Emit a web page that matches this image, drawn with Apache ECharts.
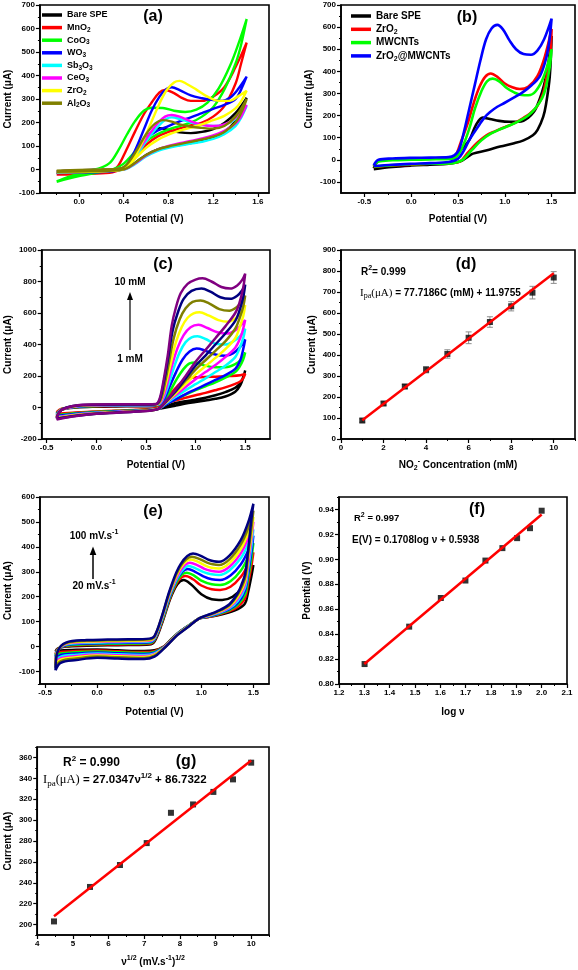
<!DOCTYPE html>
<html><head><meta charset="utf-8">
<script src="https://cdn.jsdelivr.net/npm/echarts@6/dist/echarts.min.js"></script>
<style>html,body{margin:0;padding:0;background:#fff}#c{width:578px;height:970px}</style>
</head><body><div id="c"></div>
<script>
// ---------------- Panel (a) : CVs of metal oxides ----------------
const aNames = ['Bare SPE','MnO2','CoO3','WO3','Sb3O3','CeO3','ZrO2','Al2O3'];
const aBareSPE = [[-0.2,-8],[0,-3],[0.2,0],[0.35,2],[0.42,12],[0.5,60],[0.58,120],[0.65,160],[0.72,176],[0.8,168],[0.9,158],[1.0,155],[1.1,160],[1.2,172],[1.3,198],[1.4,240],[1.5,305],[1.45,250],[1.4,205],[1.3,160],[1.2,135],[1.1,122],[1.0,112],[0.9,104],[0.8,96],[0.7,85],[0.6,62],[0.5,28],[0.42,4],[0.3,-6],[0.1,-10],[-0.1,-12],[-0.2,-14]];
const aMnO2 = [[-0.2,-20],[0,-15],[0.2,-10],[0.3,-3],[0.35,15],[0.42,80],[0.5,160],[0.58,235],[0.65,285],[0.72,328],[0.77,338],[0.85,325],[0.92,305],[1.0,292],[1.1,292],[1.2,310],[1.3,350],[1.4,435],[1.5,540],[1.45,450],[1.4,365],[1.3,270],[1.2,225],[1.1,200],[1.0,188],[0.9,175],[0.8,160],[0.7,140],[0.6,105],[0.5,55],[0.42,12],[0.3,-12],[0.1,-18],[-0.2,-22]];
const aCoO3 = [[-0.2,-50],[-0.1,-32],[0,-18],[0.1,-5],[0.2,8],[0.28,30],[0.35,80],[0.43,150],[0.5,205],[0.58,250],[0.65,263],[0.75,262],[0.85,250],[0.95,245],[1.05,255],[1.15,285],[1.25,345],[1.35,440],[1.43,540],[1.5,640],[1.45,530],[1.4,450],[1.3,340],[1.2,265],[1.1,225],[1.0,200],[0.9,185],[0.8,170],[0.7,150],[0.6,120],[0.5,75],[0.4,25],[0.3,0],[0.2,-10],[0,-28],[-0.2,-52]];
const aWO3 = [[-0.2,-12],[0,-8],[0.2,-5],[0.35,0],[0.42,15],[0.5,80],[0.58,170],[0.65,250],[0.72,310],[0.78,342],[0.83,350],[0.9,338],[1.0,315],[1.1,303],[1.2,295],[1.28,292],[1.35,305],[1.42,340],[1.5,395],[1.45,340],[1.4,300],[1.3,275],[1.2,258],[1.1,240],[1.0,222],[0.9,205],[0.8,185],[0.7,165],[0.6,130],[0.5,70],[0.42,12],[0.3,-8],[0.1,-12],[-0.2,-15]];
const aSb3O3 = [[-0.2,-10],[0,-5],[0.2,-2],[0.35,0],[0.42,10],[0.5,50],[0.6,120],[0.7,180],[0.78,215],[0.83,222],[0.9,215],[1.0,200],[1.1,190],[1.2,185],[1.3,190],[1.4,215],[1.5,270],[1.45,220],[1.4,185],[1.3,150],[1.2,130],[1.1,118],[1.0,110],[0.9,102],[0.8,92],[0.7,78],[0.6,55],[0.5,22],[0.42,2],[0.3,-5],[0.1,-8],[-0.2,-12]];
const aCeO3 = [[-0.2,-8],[0,-4],[0.2,-1],[0.35,2],[0.42,14],[0.5,60],[0.6,130],[0.7,195],[0.77,225],[0.83,232],[0.9,225],[1.0,205],[1.1,190],[1.2,185],[1.3,192],[1.4,220],[1.5,275],[1.45,225],[1.4,195],[1.3,165],[1.2,145],[1.1,132],[1.0,122],[0.9,112],[0.8,100],[0.7,85],[0.6,60],[0.5,25],[0.42,3],[0.3,-5],[0.1,-8],[-0.2,-10]];
const aZrO2 = [[-0.2,-10],[0,-6],[0.2,-2],[0.35,0],[0.42,10],[0.5,55],[0.6,150],[0.7,260],[0.78,335],[0.85,370],[0.9,377],[0.96,365],[1.05,340],[1.15,310],[1.25,292],[1.35,292],[1.42,310],[1.5,335],[1.45,290],[1.4,260],[1.3,228],[1.2,210],[1.1,192],[1.0,178],[0.9,165],[0.8,148],[0.7,125],[0.6,92],[0.5,45],[0.42,5],[0.3,-6],[0.1,-10],[-0.2,-12]];
const aAl2O3 = [[-0.2,-5],[0,-2],[0.2,0],[0.35,3],[0.42,18],[0.5,70],[0.6,150],[0.68,195],[0.75,210],[0.82,205],[0.9,192],[1.0,182],[1.1,177],[1.2,174],[1.3,185],[1.4,225],[1.5,300],[1.45,240],[1.4,200],[1.3,160],[1.2,140],[1.1,128],[1.0,118],[0.9,108],[0.8,98],[0.7,85],[0.6,62],[0.5,28],[0.42,4],[0.3,-5],[0.1,-8],[-0.2,-10]];
const aXTicks = [0,0.4,0.8,1.2,1.6], aXMinor = [-0.2,0.2,0.6,1.0,1.4];
const aYTicks = [-100,0,100,200,300,400,500,600,700], aYMinor = [-50,50,150,250,350,450,550,650];

// ---------------- Panel (b) ----------------
const bNames = ['Bare SPE','ZrO2','MWCNTs','ZrO2@MWCNTs'];
const bBareSPE = [[-0.4,-38],[-0.35,-5],[-0.2,2],[0,5],[0.2,7],[0.4,9],[0.47,15],[0.53,45],[0.62,89],[0.69,156],[0.764,191],[0.84,185],[0.94,176],[1.05,172],[1.15,172],[1.25,190],[1.34,239],[1.44,375],[1.5,560],[1.48,375],[1.44,250],[1.41,194],[1.35,135],[1.3,111],[1.2,88],[1.1,75],[0.95,60],[0.8,42],[0.66,28],[0.6,12],[0.52,-8],[0.4,-18],[0.2,-22],[0,-26],[-0.2,-32],[-0.4,-42]];
const bZrO2 = [[-0.4,-30],[-0.35,-5],[-0.2,2],[0,5],[0.2,7],[0.4,9],[0.47,18],[0.53,80],[0.6,160],[0.67,260],[0.73,330],[0.79,375],[0.85,390],[0.92,375],[1.0,345],[1.08,328],[1.16,320],[1.25,330],[1.35,380],[1.43,470],[1.5,592],[1.48,450],[1.44,360],[1.41,300],[1.35,245],[1.27,210],[1.2,190],[1.1,165],[1.0,148],[0.9,130],[0.8,110],[0.7,75],[0.6,30],[0.52,-8],[0.4,-15],[0.2,-18],[0,-22],[-0.2,-26],[-0.4,-32]];
const bMWCNTs = [[-0.4,-28],[-0.35,-8],[-0.2,-2],[0,0],[0.2,2],[0.4,4],[0.48,12],[0.55,60],[0.62,140],[0.68,230],[0.75,310],[0.81,355],[0.87,367],[0.94,355],[1.02,325],[1.1,305],[1.18,293],[1.25,292],[1.33,310],[1.42,380],[1.5,500],[1.48,420],[1.44,330],[1.4,280],[1.33,235],[1.25,200],[1.15,175],[1.05,155],[0.95,138],[0.85,118],[0.75,88],[0.65,45],[0.55,0],[0.45,-15],[0.2,-18],[0,-20],[-0.2,-24],[-0.4,-30]];
const bZrO2MWCNTs = [[-0.4,-25],[-0.35,0],[-0.2,6],[0,9],[0.2,10],[0.4,12],[0.46,20],[0.51,45],[0.56,120],[0.62,230],[0.68,340],[0.74,450],[0.8,545],[0.86,595],[0.92,610],[0.98,590],[1.05,540],[1.12,500],[1.2,478],[1.28,475],[1.35,495],[1.42,545],[1.5,638],[1.47,520],[1.43,440],[1.37,375],[1.28,335],[1.19,305],[1.1,282],[1.0,258],[0.92,240],[0.84,215],[0.78,190],[0.73,160],[0.67,122],[0.62,89],[0.56,40],[0.5,5],[0.4,-10],[0.2,-15],[0,-18],[-0.2,-22],[-0.4,-28]];
const bXTicks = [-0.5,0,0.5,1.0,1.5], bXMinor = [-0.25,0.25,0.75,1.25];
const bYTicks = [-100,0,100,200,300,400,500,600,700], bYMinor = [-50,50,150,250,350,450,550,650];

// ---------------- Panel (c) : 1-10 mM ----------------
const c1mM = [[-0.4,-35],[-0.35,-12],[-0.2,0],[0,5],[0.2,7],[0.4,8],[0.6,8],[0.7,12],[0.8,28],[0.9,40],[1.0,50],[1.1,62],[1.2,78],[1.3,98],[1.4,125],[1.46,165],[1.5,235],[1.48,190],[1.45,140],[1.4,100],[1.3,70],[1.2,55],[1.1,45],[1.0,35],[0.9,25],[0.8,12],[0.7,0],[0.6,-10],[0.4,-18],[0.2,-22],[0,-28],[-0.2,-35],[-0.4,-45]];
const c2mM = [[-0.4,-30],[-0.35,-8],[-0.2,3],[0,8],[0.2,10],[0.4,10],[0.6,12],[0.65,25],[0.7,55],[0.78,110],[0.86,160],[0.95,187],[1.05,192],[1.2,196],[1.35,200],[1.45,205],[1.5,213],[1.48,185],[1.45,165],[1.4,150],[1.3,128],[1.2,110],[1.1,93],[1.0,78],[0.9,62],[0.8,45],[0.7,22],[0.6,-5],[0.4,-15],[0.2,-20],[0,-25],[-0.2,-32],[-0.4,-40]];
const c3mM = [[-0.4,-40],[-0.35,-10],[-0.2,3],[0,10],[0.2,12],[0.4,12],[0.6,14],[0.67,35],[0.74,100],[0.81,180],[0.88,245],[0.94,280],[1.0,285],[1.1,265],[1.2,255],[1.3,255],[1.4,275],[1.47,310],[1.5,350],[1.48,305],[1.44,255],[1.4,225],[1.3,190],[1.2,160],[1.1,135],[1.0,110],[0.9,82],[0.8,52],[0.7,20],[0.62,-8],[0.4,-18],[0.2,-22],[0,-28],[-0.2,-36],[-0.4,-48]];
const c4mM = [[-0.4,-45],[-0.35,-12],[-0.2,5],[0,12],[0.2,14],[0.4,14],[0.6,16],[0.67,40],[0.73,120],[0.8,220],[0.87,305],[0.94,355],[1.01,374],[1.08,365],[1.18,340],[1.3,328],[1.38,345],[1.45,385],[1.5,432],[1.48,370],[1.45,300],[1.4,245],[1.3,205],[1.2,175],[1.1,145],[1.0,115],[0.9,85],[0.8,52],[0.7,18],[0.62,-10],[0.4,-20],[0.2,-25],[0,-32],[-0.2,-40],[-0.4,-55]];
const c5mM = [[-0.4,-50],[-0.35,-14],[-0.2,6],[0,14],[0.2,15],[0.4,15],[0.6,17],[0.66,40],[0.72,130],[0.78,250],[0.84,350],[0.9,415],[0.96,445],[1.02,452],[1.1,435],[1.2,405],[1.3,400],[1.38,420],[1.45,455],[1.5,500],[1.48,440],[1.44,370],[1.4,320],[1.3,265],[1.2,225],[1.1,185],[1.0,148],[0.9,110],[0.8,68],[0.7,25],[0.62,-10],[0.4,-22],[0.2,-28],[0,-34],[-0.2,-44],[-0.4,-60]];
const c6mM = [[-0.4,-55],[-0.35,-14],[-0.2,8],[0,15],[0.2,16],[0.4,16],[0.6,18],[0.66,45],[0.71,140],[0.76,260],[0.82,380],[0.88,460],[0.95,510],[1.03,525],[1.12,505],[1.22,478],[1.32,470],[1.4,490],[1.46,525],[1.5,555],[1.48,500],[1.45,440],[1.4,380],[1.3,320],[1.2,270],[1.1,225],[1.0,180],[0.9,130],[0.8,80],[0.7,30],[0.62,-10],[0.4,-22],[0.2,-28],[0,-35],[-0.2,-46],[-0.4,-63]];
const c7mM = [[-0.4,-58],[-0.35,-14],[-0.2,10],[0,16],[0.2,17],[0.4,17],[0.6,19],[0.65,45],[0.7,150],[0.75,280],[0.8,410],[0.86,510],[0.92,570],[0.98,598],[1.04,605],[1.13,585],[1.23,555],[1.33,545],[1.4,565],[1.46,605],[1.5,650],[1.48,580],[1.44,500],[1.4,440],[1.3,370],[1.2,315],[1.1,262],[1.0,210],[0.9,150],[0.8,90],[0.7,32],[0.62,-10],[0.4,-23],[0.2,-30],[0,-37],[-0.2,-48],[-0.4,-67]];
const c8mM = [[-0.4,-62],[-0.35,-15],[-0.2,11],[0,17],[0.2,18],[0.4,18],[0.6,20],[0.65,50],[0.69,150],[0.73,280],[0.78,440],[0.84,560],[0.9,630],[0.97,670],[1.05,680],[1.14,660],[1.24,625],[1.34,615],[1.41,635],[1.46,670],[1.5,710],[1.48,640],[1.44,560],[1.4,500],[1.3,420],[1.2,360],[1.1,300],[1.0,240],[0.9,170],[0.8,100],[0.7,35],[0.62,-10],[0.4,-24],[0.2,-31],[0,-38],[-0.2,-50],[-0.4,-70]];
const c9mM = [[-0.4,-66],[-0.35,-15],[-0.2,12],[0,18],[0.2,19],[0.4,19],[0.6,21],[0.64,50],[0.68,160],[0.72,300],[0.77,490],[0.82,600],[0.88,690],[0.96,740],[1.06,755],[1.15,735],[1.25,700],[1.35,690],[1.42,710],[1.47,745],[1.5,780],[1.48,700],[1.44,610],[1.4,550],[1.3,470],[1.2,400],[1.1,330],[1.0,265],[0.9,185],[0.8,105],[0.7,38],[0.62,-10],[0.4,-25],[0.2,-32],[0,-39],[-0.2,-52],[-0.4,-72]];
const c10mM = [[-0.4,-70],[-0.35,-15],[-0.2,13],[0,19],[0.2,20],[0.4,20],[0.6,22],[0.64,60],[0.68,180],[0.72,330],[0.76,520],[0.8,630],[0.85,725],[0.92,785],[1.0,812],[1.07,820],[1.16,800],[1.26,765],[1.35,755],[1.42,775],[1.47,810],[1.5,850],[1.48,760],[1.44,660],[1.4,600],[1.3,515],[1.2,440],[1.1,365],[1.0,290],[0.9,200],[0.8,115],[0.7,40],[0.62,-10],[0.4,-26],[0.2,-33],[0,-40],[-0.2,-54],[-0.4,-76]];
const cXTicks = [-0.5,0,0.5,1.0,1.5], cXMinor = [-0.25,0.25,0.75,1.25];
const cYTicks = [-200,0,200,400,600,800,1000], cYMinor = [-100,100,300,500,700,900];

// ---------------- Panel (d) : calibration ----------------
const dConc = [1,2,3,4,5,6,7,8,9,10];
const dCurrent = [88,169,250,330,405,482,557,632,697,769];
const dError = [8,8,10,15,20,28,25,22,30,28];
const dFit = [[1,89],[10,789]];
const dXTicks = [0,2,4,6,8,10], dXMinor = [1,3,5,7,9,11];
const dYTicks = [0,100,200,300,400,500,600,700,800,900], dYMinor = [50,150,250,350,450,550,650,750,850];

// ---------------- Panel (e) : scan rates 20-100 mV/s ----------------
const e20 = [[-0.4,-20],[-0.38,-8],[-0.3,0],[-0.1,3],[0.1,5],[0.3,6],[0.5,8],[0.55,20],[0.62,90],[0.7,190],[0.77,250],[0.83,267],[0.9,250],[1.0,210],[1.1,190],[1.2,187],[1.3,200],[1.4,240],[1.46,285],[1.5,327],[1.48,280],[1.45,220],[1.42,173],[1.35,150],[1.27,138],[1.15,125],[1.05,118],[0.98,112],[0.88,85],[0.77,52],[0.7,25],[0.64,0],[0.55,-15],[0.45,-18],[0.2,-15],[0,-12],[-0.2,-13],[-0.35,-16],[-0.4,-20]];
const e30 = [[-0.4,-30],[-0.38,-10],[-0.3,2],[-0.1,6],[0.1,8],[0.3,9],[0.5,11],[0.55,25],[0.62,95],[0.7,195],[0.78,265],[0.85,283],[0.92,270],[1.0,245],[1.1,230],[1.18,227],[1.28,240],[1.38,280],[1.45,330],[1.5,378],[1.48,320],[1.45,255],[1.42,195],[1.35,160],[1.27,142],[1.15,127],[1.05,118],[0.98,113],[0.88,85],[0.77,52],[0.7,24],[0.64,0],[0.55,-18],[0.45,-22],[0.2,-19],[0,-16],[-0.2,-18],[-0.35,-22],[-0.4,-30]];
const e40 = [[-0.4,-40],[-0.38,-12],[-0.3,4],[-0.1,9],[0.1,11],[0.3,12],[0.5,14],[0.55,28],[0.62,100],[0.7,200],[0.78,272],[0.86,296],[0.93,285],[1.0,265],[1.1,250],[1.18,247],[1.28,262],[1.38,305],[1.45,360],[1.5,415],[1.48,350],[1.45,275],[1.42,210],[1.35,168],[1.27,146],[1.15,129],[1.05,119],[0.98,113],[0.88,85],[0.77,52],[0.7,23],[0.64,-2],[0.55,-21],[0.45,-26],[0.2,-23],[0,-20],[-0.2,-23],[-0.35,-28],[-0.4,-40]];
const e50 = [[-0.4,-50],[-0.38,-14],[-0.3,6],[-0.1,12],[0.1,14],[0.3,15],[0.5,17],[0.55,30],[0.62,105],[0.7,205],[0.78,280],[0.87,311],[0.94,300],[1.02,282],[1.1,270],[1.18,267],[1.28,285],[1.38,330],[1.45,385],[1.5,445],[1.48,375],[1.45,295],[1.42,225],[1.35,175],[1.27,150],[1.15,131],[1.05,120],[0.98,113],[0.88,84],[0.77,51],[0.7,22],[0.64,-3],[0.55,-24],[0.45,-30],[0.2,-27],[0,-24],[-0.2,-28],[-0.35,-34],[-0.4,-50]];
const e60 = [[-0.4,-58],[-0.38,-15],[-0.3,8],[-0.1,15],[0.1,17],[0.3,18],[0.5,20],[0.55,33],[0.62,108],[0.7,210],[0.79,290],[0.88,323],[0.95,313],[1.03,298],[1.1,290],[1.17,287],[1.27,305],[1.38,355],[1.45,410],[1.5,470],[1.48,400],[1.45,315],[1.42,238],[1.35,183],[1.27,154],[1.15,133],[1.05,121],[0.98,113],[0.88,84],[0.77,50],[0.7,21],[0.64,-4],[0.55,-27],[0.45,-34],[0.2,-31],[0,-28],[-0.2,-33],[-0.35,-40],[-0.4,-58]];
const e70 = [[-0.4,-66],[-0.38,-16],[-0.3,10],[-0.1,18],[0.1,20],[0.3,21],[0.5,23],[0.55,36],[0.62,112],[0.7,215],[0.8,305],[0.89,336],[0.96,327],[1.03,312],[1.1,303],[1.17,300],[1.27,320],[1.38,375],[1.45,435],[1.5,500],[1.48,425],[1.45,335],[1.42,250],[1.35,192],[1.27,158],[1.15,135],[1.05,122],[0.98,113],[0.88,83],[0.77,49],[0.7,20],[0.64,-5],[0.55,-30],[0.45,-38],[0.2,-35],[0,-32],[-0.2,-38],[-0.35,-46],[-0.4,-66]];
const e80 = [[-0.4,-75],[-0.38,-17],[-0.3,12],[-0.1,20],[0.1,22],[0.3,23],[0.5,26],[0.55,38],[0.62,115],[0.7,220],[0.8,315],[0.9,349],[0.97,340],[1.04,325],[1.1,316],[1.17,313],[1.27,335],[1.38,392],[1.45,455],[1.5,520],[1.48,445],[1.45,355],[1.42,262],[1.35,200],[1.27,162],[1.15,137],[1.05,123],[0.98,113],[0.88,82],[0.77,48],[0.7,19],[0.64,-6],[0.55,-33],[0.45,-42],[0.2,-39],[0,-36],[-0.2,-43],[-0.35,-52],[-0.4,-75]];
const e90 = [[-0.4,-85],[-0.38,-18],[-0.3,14],[-0.1,23],[0.1,25],[0.3,26],[0.5,29],[0.55,40],[0.62,118],[0.7,225],[0.8,322],[0.91,360],[0.98,352],[1.05,338],[1.11,330],[1.17,327],[1.27,350],[1.38,410],[1.45,475],[1.5,545],[1.48,470],[1.45,372],[1.42,275],[1.35,208],[1.27,166],[1.15,139],[1.05,124],[0.98,113],[0.88,82],[0.77,47],[0.7,18],[0.64,-7],[0.55,-36],[0.45,-46],[0.2,-43],[0,-40],[-0.2,-48],[-0.35,-58],[-0.4,-85]];
const e100 = [[-0.4,-95],[-0.38,-20],[-0.3,16],[-0.1,26],[0.1,28],[0.3,29],[0.5,32],[0.55,42],[0.62,120],[0.7,230],[0.8,330],[0.92,373],[0.99,365],[1.06,350],[1.12,342],[1.17,340],[1.27,365],[1.38,428],[1.45,498],[1.5,573],[1.48,507],[1.45,387],[1.42,290],[1.39,253],[1.35,215],[1.27,170],[1.15,141],[1.05,125],[0.98,113],[0.88,81],[0.77,46],[0.7,17],[0.64,-8],[0.55,-40],[0.45,-50],[0.2,-48],[0,-45],[-0.2,-54],[-0.35,-65],[-0.4,-95]];
const eXTicks = [-0.5,0,0.5,1.0,1.5], eXMinor = [-0.25,0.25,0.75,1.25];
const eYTicks = [-100,0,100,200,300,400,500,600], eYMinor = [-150,-50,50,150,250,350,450,550];

// ---------------- Panel (f) : Ep vs log v ----------------
const fLogV = [1.301,1.477,1.602,1.699,1.778,1.845,1.903,1.954,2.0];
const fPotential = [0.816,0.846,0.869,0.883,0.899,0.909,0.917,0.925,0.939];
const fFit = [[1.3,0.816],[2.0,0.936]];
const fXTicks = [1.2,1.3,1.4,1.5,1.6,1.7,1.8,1.9,2.0,2.1], fXMinor = [1.25,1.35,1.45,1.55,1.65,1.75,1.85,1.95,2.05];
const fYTicks = [0.80,0.82,0.84,0.86,0.88,0.90,0.92,0.94], fYMinor = [0.81,0.83,0.85,0.87,0.89,0.91,0.93,0.95];

// ---------------- Panel (g) : Ipa vs v^1/2 ----------------
const gSqrtV = [4.47,5.48,6.32,7.07,7.75,8.37,8.94,9.49,10.0];
const gCurrent = [203,236,257,278,307,315,327,339,355];
const gFit = [[4.47,208],[10.0,357]];
const gXTicks = [4,5,6,7,8,9,10], gXMinor = [4.5,5.5,6.5,7.5,8.5,9.5,10.5];
const gYTicks = [200,220,240,260,280,300,320,340,360], gYMinor = [190,210,230,250,270,290,310,330,350,370];

// ---------------- styling / layout ----------------
const FF = '"Liberation Sans", Arial, Helvetica, sans-serif';
const SERIF = '"Liberation Serif", "Times New Roman", serif';
const PAL = {black:'#000000', red:'#ff0000', green:'#00ff00', blue:'#0000ff', cyan:'#00ffff', magenta:'#ff00ff', yellow:'#ffff00', olive:'#808000', navy:'#000080', purple:'#800080'};
const subsup = (fs) => ({
  sup:{fontSize:fs, fontWeight:'bold', fontFamily:FF, color:'#000', verticalAlign:'top'},
  sub:{fontSize:fs, fontWeight:'bold', fontFamily:FF, color:'#000', verticalAlign:'bottom'}
});

const grids = [
  {left:36, top:5, width:233, height:188},
  {left:341, top:5, width:234, height:188},
  {left:36, top:250, width:234, height:189},
  {left:341, top:250, width:234, height:189},
  {left:36, top:497, width:233, height:187},
  {left:339, top:497, width:228, height:187},
  {left:33, top:747, width:236, height:190}
].map(g => Object.assign(g, {show:true, borderColor:'#000', borderWidth:1.6, backgroundColor:'transparent'}));

const axisSpecs = [
  {x:{min:-0.35,max:1.7,ticks:aXTicks,minor:aXMinor,dec:1,name:'Potential (V)',gap:19},
   y:{min:-100,max:700,ticks:aYTicks,minor:aYMinor,dec:0,name:'Current (μA)',gap:23}},
  {x:{min:-0.75,max:1.75,ticks:bXTicks,minor:bXMinor,dec:1,name:'Potential (V)',gap:19},
   y:{min:-150,max:700,ticks:bYTicks,minor:bYMinor,dec:0,name:'Current (μA)',gap:24}},
  {x:{min:-0.55,max:1.75,ticks:cXTicks,minor:cXMinor,dec:1,name:'Potential (V)',gap:19},
   y:{min:-200,max:1000,ticks:cYTicks,minor:cYMinor,dec:0,name:'Current (μA)',gap:23}},
  {x:{min:0,max:11,ticks:dXTicks,minor:dXMinor,dec:0,name:'NO{sub|2}{sup|-} Concentration (mM)',gap:19},
   y:{min:0,max:900,ticks:dYTicks,minor:dYMinor,dec:0,name:'Current (μA)',gap:20}},
  {x:{min:-0.55,max:1.65,ticks:eXTicks,minor:eXMinor,dec:1,name:'Potential (V)',gap:21},
   y:{min:-150,max:600,ticks:eYTicks,minor:eYMinor,dec:0,name:'Current (μA)',gap:23}},
  {x:{min:1.2,max:2.1,ticks:fXTicks,minor:fXMinor,dec:1,name:'log ν',gap:21},
   y:{min:0.80,max:0.95,ticks:fYTicks,minor:fYMinor,dec:2,name:'Potential (V)',gap:22}},
  {x:{min:4,max:10.5,ticks:gXTicks,minor:gXMinor,dec:0,name:'ν{sup|1/2} (mV.s{sup|-1}){sup|1/2}',gap:20},
   y:{min:190,max:370,ticks:gYTicks,minor:gYMinor,dec:0,name:'Current (μA)',gap:20}}
];

const labelStyle = {color:'#000', fontSize:8, fontWeight:'bold', fontFamily:FF};
const nameStyle = {color:'#000', fontSize:10, fontWeight:'bold', fontFamily:FF, lineHeight:14, rich:subsup(7)};

const xAxes = [], yAxes = [];
axisSpecs.forEach((s, gi) => {
  ['x','y'].forEach(k => {
    const a = s[k];
    const pos = k === 'x' ? 'bottom' : 'left';
    const main = {
      type:'value', gridIndex:gi, min:a.min, max:a.max, position:pos,
      axisLine:{show:true, onZero:false, lineStyle:{color:'#000', width:1.6}},
      axisTick:{show:true, customValues:a.ticks, length:4, lineStyle:{color:'#000', width:1.2}},
      axisLabel:{show:true, customValues:a.ticks, margin:5, formatter:(v)=>Number(v).toFixed(a.dec), ...labelStyle},
      splitLine:{show:false},
      name:a.name, nameLocation:'middle', nameGap:a.gap, nameTextStyle:nameStyle
    };
    const minor = {
      type:'value', gridIndex:gi, min:a.min, max:a.max, position:pos,
      axisLine:{show:false, onZero:false},
      axisTick:{show:true, customValues:a.minor, length:2, lineStyle:{color:'#000', width:1}},
      axisLabel:{show:false}, splitLine:{show:false}
    };
    (k === 'x' ? xAxes : yAxes).push(main, minor);
  });
});

const series = [];
function cv(name, data, color, p, w) {
  series.push({name, type:'line', xAxisIndex:2*p, yAxisIndex:2*p, data, symbol:'none', smooth:0.35,
    color, lineStyle:{color, width:w || 2.5}, silent:true, animation:false, z:2});
}
// (a)
[[aBareSPE,PAL.black],[aMnO2,PAL.red],[aCoO3,PAL.green],[aWO3,PAL.blue],[aSb3O3,PAL.cyan],[aCeO3,PAL.magenta],[aZrO2,PAL.yellow],[aAl2O3,PAL.olive]]
  .forEach((d,i) => cv(aNames[i], d[0], d[1], 0, 2.4));
// (b)
[[bBareSPE,PAL.black],[bZrO2,PAL.red],[bMWCNTs,PAL.green],[bZrO2MWCNTs,PAL.blue]]
  .forEach((d,i) => cv('b ' + bNames[i], d[0], d[1], 1, 2.6));
// (c)
[[c1mM,PAL.black],[c2mM,PAL.red],[c3mM,PAL.green],[c4mM,PAL.blue],[c5mM,PAL.cyan],[c6mM,PAL.magenta],[c7mM,PAL.yellow],[c8mM,PAL.olive],[c9mM,PAL.navy],[c10mM,PAL.purple]]
  .forEach((d,i) => cv('c' + (i+1), d[0], d[1], 2, 2.5));
// (e)
[[e20,PAL.black],[e30,PAL.red],[e40,PAL.green],[e50,PAL.blue],[e60,PAL.cyan],[e70,PAL.magenta],[e80,PAL.yellow],[e90,PAL.olive],[e100,PAL.navy]]
  .forEach((d,i) => cv('e' + (i+1), d[0], d[1], 4, 2.5));

// (d) error bars, points, fit
series.push({type:'custom', xAxisIndex:6, yAxisIndex:6, silent:true, animation:false, z:3,
  data: dConc.map((c,i) => [c, dCurrent[i], dError[i]]),
  encode:{x:0, y:1},
  renderItem:(params, api) => {
    const x = api.value(0), y = api.value(1), e = api.value(2);
    const t = api.coord([x, y + e]), b = api.coord([x, y - e]);
    const st = {stroke:'#8c8c8c', lineWidth:1};
    return {type:'group', children:[
      {type:'line', shape:{x1:t[0], y1:t[1], x2:b[0], y2:b[1]}, style:st},
      {type:'line', shape:{x1:t[0]-3, y1:t[1], x2:t[0]+3, y2:t[1]}, style:st},
      {type:'line', shape:{x1:b[0]-3, y1:b[1], x2:b[0]+3, y2:b[1]}, style:st}
    ]};
  }});
function pts(xs, ys, p) {
  series.push({type:'scatter', xAxisIndex:2*p, yAxisIndex:2*p, data: xs.map((x,i)=>[x, ys[i]]),
    symbol:'rect', symbolSize:6, itemStyle:{color:'#000'}, silent:true, animation:false, z:4});
}
function fit(d, p) {
  series.push({type:'line', xAxisIndex:2*p, yAxisIndex:2*p, data:d, symbol:'none',
    lineStyle:{color:'#ff0000', width:2.5}, silent:true, animation:false, z:5});
}
pts(dConc, dCurrent, 3); fit(dFit, 3);
pts(fLogV, fPotential, 5); fit(fFit, 5);
pts(gSqrtV, gCurrent, 6); fit(gFit, 6);

// legends
const aLabel = {'Bare SPE':'Bare SPE','MnO2':'MnO{s|2}','CoO3':'CoO{s|3}','WO3':'WO{s|3}','Sb3O3':'Sb{s|3}O{s|3}','CeO3':'CeO{s|3}','ZrO2':'ZrO{s|2}','Al2O3':'Al{s|2}O{s|3}'};
const bLabel = {'b Bare SPE':'Bare SPE','b ZrO2':'ZrO{s|2}','b MWCNTs':'MWCNTs','b ZrO2@MWCNTs':'ZrO{s|2}@MWCNTs'};
const legends = [
  {left:42, top:9, orient:'vertical', data:aNames, icon:'rect', itemWidth:20, itemHeight:3.5, itemGap:0.6, padding:0,
   selectedMode:false, formatter:(n)=>aLabel[n],
   textStyle:{fontFamily:FF, fontWeight:'bold', fontSize:9, color:'#000', lineHeight:12,
     rich:{s:{fontFamily:FF, fontWeight:'bold', fontSize:6.5, color:'#000', verticalAlign:'bottom'}}}},
  {left:351, top:9.5, orient:'vertical', data:bNames.map(n=>'b '+n), icon:'rect', itemWidth:20, itemHeight:3.5, itemGap:0.3, padding:0,
   selectedMode:false, formatter:(n)=>bLabel[n],
   textStyle:{fontFamily:FF, fontWeight:'bold', fontSize:10, color:'#000', lineHeight:13,
     rich:{s:{fontFamily:FF, fontWeight:'bold', fontSize:7, color:'#000', verticalAlign:'bottom'}}}}
];

// annotations
function txt(x, y, text, size, align, extra) {
  return Object.assign({type:'text', x, y, z:100, silent:true, style:Object.assign({
    text, fontSize:size, fontWeight:'bold', fontFamily:FF, fill:'#000',
    align:align||'center', verticalAlign:'middle', textAlign:align||'center', textVerticalAlign:'middle',
    lineHeight:Math.round(size*1.4), rich:subsup(Math.round(size*0.7))
  }, extra||{})});
}
function eqRich(size) {
  const r = subsup(Math.round(size*0.7));
  r.i = {fontFamily:SERIF, fontSize:size+1, fontWeight:'normal', color:'#000'};
  r.ip = {fontFamily:SERIF, fontSize:Math.round(size*0.75), fontWeight:'normal', color:'#000', verticalAlign:'bottom'};
  return r;
}
const graphics = [
  txt(153,17,'(a)',16), txt(467,18,'(b)',16), txt(163,265,'(c)',16), txt(466,265,'(d)',16),
  txt(153,512,'(e)',16), txt(477,510,'(f)',16), txt(186,762,'(g)',16),
  txt(130,282,'10 mM',10), txt(130,359,'1 mM',10),
  {type:'line', z:100, silent:true, shape:{x1:130,y1:350,x2:130,y2:298}, style:{stroke:'#000', lineWidth:1.2}},
  {type:'polygon', z:100, silent:true, shape:{points:[[127,300],[133,300],[130,292]]}, style:{fill:'#000'}},
  txt(94,536,'100 mV.s{sup|-1}',10), txt(94,586,'20 mV.s{sup|-1}',10),
  {type:'line', z:100, silent:true, shape:{x1:93,y1:579,x2:93,y2:553}, style:{stroke:'#000', lineWidth:1.5}},
  {type:'polygon', z:100, silent:true, shape:{points:[[89.7,555],[96.3,555],[93,546.5]]}, style:{fill:'#000'}},
  txt(361,272,'R{sup|2}= 0.999',10,'left'),
  txt(360,293,'{i|I}{ip|pa}{i|(μA)} = 77.7186C (mM) + 11.9755',10,'left',{rich:eqRich(10)}),
  txt(354,518,'R{sup|2} = 0.997',9.5,'left'),
  txt(352,540,'E(V) = 0.1708log ν + 0.5938',10,'left'),
  txt(63,763,'R{sup|2} = 0.990',12,'left'),
  txt(43,780,'{i|I}{ip|pa}{i|(μA)} = 27.0347ν{sup|1/2} + 86.7322',11.5,'left',{rich:eqRich(11.5)})
];

const chart = echarts.init(document.getElementById('c'), null, {renderer:'canvas', width:578, height:970});
chart.setOption({
  animation:false,
  backgroundColor:'#ffffff',
  grid:grids, xAxis:xAxes, yAxis:yAxes, legend:legends, series, graphic:graphics
});
</script></body></html>
